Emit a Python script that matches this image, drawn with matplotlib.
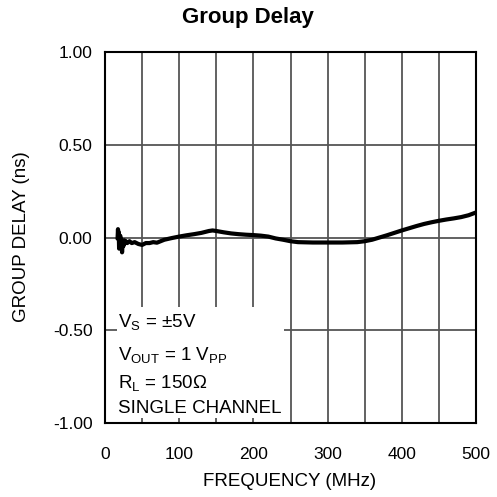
from matplotlib import pyplot as plt
from matplotlib.patches import Rectangle

plt.rcParams['font.family'] = ['Liberation Sans', 'DejaVu Sans']
plt.rcParams['mathtext.fontset'] = 'custom'
plt.rcParams['mathtext.rm'] = 'Liberation Sans'
plt.rcParams['mathtext.it'] = 'Liberation Sans:italic'

# group delay trace (MHz, ns)
freq = [17, 17.5, 18, 18.5, 19, 19.5, 20, 20.5, 21, 22, 23, 24, 25, 26, 27, 28,
        30, 33, 36, 40, 45, 50, 55, 60, 65, 70, 75, 80, 90, 100, 110, 120, 130,
        140, 145, 150, 160, 170, 180, 190, 200, 210, 220, 230, 240, 250, 260,
        280, 300, 320, 340, 350, 360, 370, 380, 390, 400, 410, 420, 430, 440,
        450, 460, 470, 480, 490, 500]
delay = [0.0, 0.045, -0.01, 0.03, -0.06, 0.0, -0.04, 0.01, -0.03, -0.01, -0.08,
         -0.02, -0.045, -0.015, -0.03, -0.02, -0.03, -0.02, -0.03, -0.025, -0.035,
         -0.04, -0.03, -0.03, -0.025, -0.028, -0.02, -0.012, -0.003, 0.005, 0.012,
         0.018, 0.025, 0.035, 0.038, 0.035, 0.028, 0.022, 0.018, 0.015, 0.013,
         0.01, 0.005, -0.005, -0.012, -0.02, -0.025, -0.027, -0.027, -0.027,
         -0.025, -0.02, -0.012, 0.0, 0.012, 0.025, 0.038, 0.05, 0.062, 0.073,
         0.082, 0.09, 0.097, 0.103, 0.11, 0.12, 0.135]

xticks = [0, 100, 200, 300, 400, 500]
xgrid = [50, 100, 150, 200, 250, 300, 350, 400, 450]
yticks = [-1.0, -0.5, 0.0, 0.5, 1.0]
notes = ['V$_\\mathrm{S}$ = \u00b15V',
         'V$_\\mathrm{OUT}$ = 1 V$_\\mathrm{PP}$',
         'R$_\\mathrm{L}$ = 150\u03a9',
         'SINGLE CHANNEL']

fig = plt.figure(figsize=(4.97, 4.97), dpi=100)
ax = fig.add_axes([105 / 497, 74 / 497, 371 / 497, 371 / 497])

for g in xgrid:
    ax.axvline(g, color='#555555', lw=1.3, zorder=1)
for g in [-0.5, 0.0, 0.5]:
    ax.axhline(g, color='#555555', lw=1.3, zorder=1)

ax.plot(freq, delay, color='black', lw=3, zorder=3, solid_joinstyle='round')

# white legend box over the grid
ax.add_patch(Rectangle((0.032, 0.0135), 0.45, 0.30, transform=ax.transAxes,
                       facecolor='white', edgecolor='none', zorder=4))
for txt, yb in zip(notes, [0.259, 0.170, 0.094, 0.027]):
    ax.text(0.035, yb, txt, transform=ax.transAxes, fontsize=13.5,
            va='baseline', ha='left', zorder=5)

ax.set_xlim(0, 500)
ax.set_ylim(-1, 1)
ax.set_xticks(xticks)
ax.set_xticklabels([str(t) for t in xticks])
ax.set_yticks(yticks)
ax.set_yticklabels(['%.2f' % t for t in yticks])
ax.tick_params(length=0, labelsize=12.5)
ax.tick_params(axis='x', pad=17)
ax.tick_params(axis='y', pad=9)
for s in ax.spines.values():
    s.set_linewidth(1.5)
    s.set_zorder(6)

fig.text(248 / 497, 1 - 18 / 497, 'Group Delay', fontsize=16,
         fontweight='bold', ha='center', va='center')
fig.text(290 / 497, 1 - 481 / 497, 'FREQUENCY (MHz)', fontsize=13.5,
         ha='center', va='center')
fig.text(22 / 497, 1 - 237 / 497, 'GROUP DELAY (ns)', fontsize=13.5,
         ha='center', va='center', rotation=90)

fig.savefig('out.png', dpi=100)
